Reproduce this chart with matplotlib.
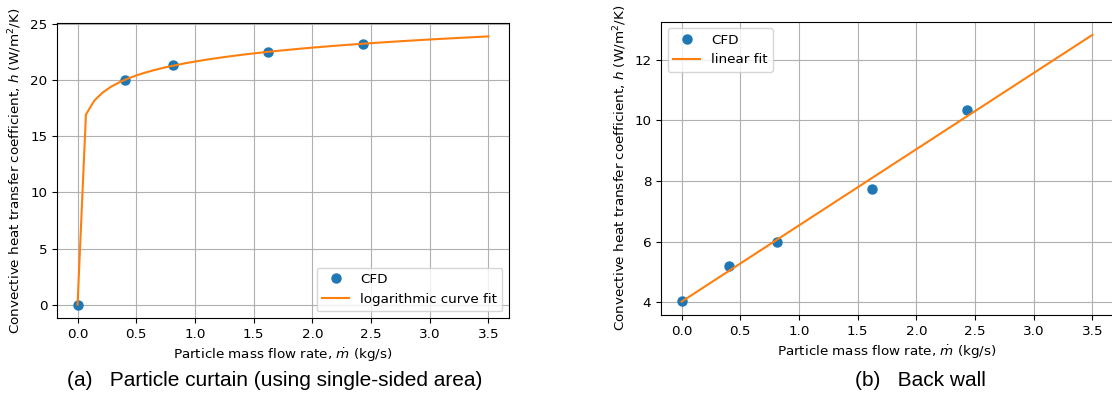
import numpy as np
from matplotlib import pyplot as plt

# CFD results
mdot = [0.0, 0.405, 0.81, 1.62, 2.43]
h_curtain = [0.0, 20.0, 21.4, 22.5, 23.25]
h_backwall = [4.05, 5.2, 6.0, 7.75, 10.35]

x_fit = np.linspace(0.0, 3.5, 50)

# logarithmic fit for the curtain (zero flow -> zero h)
xc = np.array(mdot[1:])
b, a = np.polyfit(np.log(xc), h_curtain[1:], 1)
h_log = np.zeros_like(x_fit)
h_log[1:] = a + b * np.log(x_fit[1:])

# linear fit for the back wall
m, c = np.polyfit(mdot, h_backwall, 1)
h_lin = m * x_fit + c

fs = 9.7
ylab = "Convective heat transfer coefficient, $h$ (W/m$^2$/K)"
xlab = r"Particle mass flow rate, $\dot{m}$ (kg/s)"

fig = plt.figure(figsize=(11.12, 3.96), dpi=100)
W, H = 1112.0, 396.0

ax1 = fig.add_axes([57 / W, (H - 318) / H, 452 / W, 295 / H])
ax1.plot(mdot, h_curtain, "o", color="C0", markersize=6.5, label="CFD")
ax1.plot(x_fit, h_log, color="C1", label="logarithmic curve fit")
ax1.set_xlabel(xlab, fontsize=fs)
ax1.set_ylabel(ylab, fontsize=fs)
ax1.set_xticks(np.arange(0, 3.6, 0.5))
ax1.tick_params(labelsize=fs)
ax1.grid(True)
ax1.legend(loc="lower right", fontsize=fs)

ax2 = fig.add_axes([661 / W, (H - 315) / H, 452 / W, 293.5 / H])
ax2.plot(mdot, h_backwall, "o", color="C0", markersize=6.5, label="CFD")
ax2.plot(x_fit, h_lin, color="C1", label="linear fit")
ax2.set_xlabel(xlab, fontsize=fs)
ax2.set_ylabel(ylab, fontsize=fs)
ax2.set_xticks(np.arange(0, 3.6, 0.5))
ax2.set_yticks([4, 6, 8, 10, 12])
ax2.tick_params(labelsize=fs)
ax2.grid(True)
ax2.legend(loc="upper left", fontsize=fs)

fig.text(275 / W, 1 - 381 / H, "(a)   Particle curtain (using single-sided area)",
         ha="center", va="center", fontsize=15, family="Liberation Sans")
fig.text(920 / W, 1 - 381 / H, "(b)   Back wall",
         ha="center", va="center", fontsize=15, family="Liberation Sans")

fig.savefig("out.png", dpi=100)
